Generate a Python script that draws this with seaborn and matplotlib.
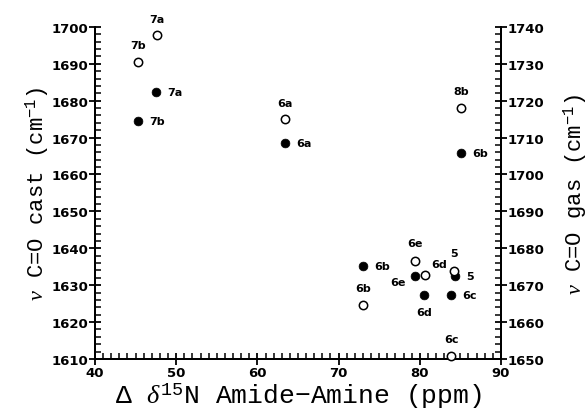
import numpy as np
import pandas as pd
import seaborn as sns
import matplotlib.pyplot as plt
from matplotlib.ticker import MultipleLocator

# filled circles: C=O stretch in cast film (left axis)
cast_x = [47.5, 45.3, 63.4, 85.1, 73.0, 79.4, 80.5, 83.9, 84.3]
cast_y = [1682.3, 1674.5, 1668.5, 1665.8, 1635.2, 1632.4, 1627.3, 1627.3, 1632.4]
cast_labels = ['7a', '7b', '6a', '6b', '6b', '6e', '6d', '6c', '5']

# open circles: C=O stretch in gas phase (right axis)
gas_x = [47.6, 45.3, 63.4, 85.1, 73.0, 79.4, 80.6, 84.2, 83.9]
gas_y = [1737.7, 1730.6, 1714.9, 1718.1, 1664.7, 1676.6, 1672.8, 1673.9, 1650.8]
gas_labels = ['7a', '7b', '6a', '8b', '6b', '6e', '6d', '5', '6c']

# label offsets in points (x, y)
cast_off = [(8, 0), (8, 0), (8, 0), (8, 0), (8, 0), (-7, -4), (0, -12), (8, 0), (8, 0)]
gas_off = [(0, 12), (0, 12), (0, 12), (0, 12), (0, 12), (0, 13), (5, 8), (0, 13), (0, 12)]

cast = pd.DataFrame({'x': cast_x, 'y': cast_y, 'label': cast_labels})
gas = pd.DataFrame({'x': gas_x, 'y': gas_y, 'label': gas_labels})

sns.set_style('ticks', {'axes.edgecolor': 'black', 'text.color': 'black',
                        'xtick.color': 'black', 'ytick.color': 'black',
                        'axes.labelcolor': 'black'})
plt.rcParams['font.family'] = ['DejaVu Sans']
plt.rcParams['mathtext.fontset'] = 'custom'
plt.rcParams['mathtext.rm'] = 'Liberation Mono'
plt.rcParams['mathtext.it'] = 'Liberation Serif:italic'

fig = plt.figure(figsize=(5.88, 4.10), dpi=100)
ax = fig.add_axes([0.1616, 0.122, 0.6904, 0.810])
ax2 = ax.twinx()

sns.scatterplot(data=cast, x='x', y='y', ax=ax, color='black', s=40,
                edgecolor='black', linewidth=0.5, clip_on=False, zorder=3)
sns.scatterplot(data=gas, x='x', y='y', ax=ax2, facecolor='white', s=36,
                edgecolor='black', linewidth=1.1, clip_on=False, zorder=3)

lblfont = dict(fontsize=8, fontweight='bold', family='DejaVu Sans')
for i, r in cast.iterrows():
    dx, dy = cast_off[i]
    ha = 'left' if dx > 0 else ('right' if dx < 0 else 'center')
    ax.annotate(r['label'], (r['x'], r['y']), xytext=(dx, dy), textcoords='offset points',
                ha=ha, va='center', annotation_clip=False, **lblfont)
for i, r in gas.iterrows():
    dx, dy = gas_off[i]
    ha = 'left' if dx > 0 else 'center'
    ax2.annotate(r['label'], (r['x'], r['y']), xytext=(dx, dy), textcoords='offset points',
                 ha=ha, va='center', annotation_clip=False, **lblfont)

ax.set_xlim(40, 90)
ax.set_ylim(1610, 1700)
ax2.set_ylim(1650, 1740)

ax.xaxis.set_major_locator(MultipleLocator(10))
ax.xaxis.set_minor_locator(MultipleLocator(1))
ax.yaxis.set_major_locator(MultipleLocator(10))
ax.yaxis.set_minor_locator(MultipleLocator(2))
ax2.yaxis.set_major_locator(MultipleLocator(10))
ax2.yaxis.set_minor_locator(MultipleLocator(2))

for a in (ax, ax2):
    a.spines['top'].set_visible(False)
    for s in a.spines.values():
        s.set_linewidth(1.4)
    a.tick_params(which='major', direction='inout', length=8, width=1.3, labelsize=9.5)
    a.tick_params(which='minor', direction='in', length=4, width=1.1)
    for t in a.get_xticklabels() + a.get_yticklabels():
        t.set_fontweight('bold')
ax.tick_params(axis='x', pad=1)
ax.tick_params(axis='y', pad=1)
ax2.tick_params(axis='y', pad=1)

mono = dict(family='Liberation Mono')
ax.set_xlabel(r'$\Delta$ $\delta^{15}$N Amide$-$Amine (ppm)', fontsize=19, labelpad=1, **mono)
ax.set_ylabel(r'$\nu$ C=O cast (cm$^{-1}$)', fontsize=16, labelpad=0, **mono)
ax2.set_ylabel(r'$\nu$ C=O gas (cm$^{-1}$)', fontsize=16, labelpad=12, rotation=90, **mono)

fig.savefig('out.png', dpi=100)
